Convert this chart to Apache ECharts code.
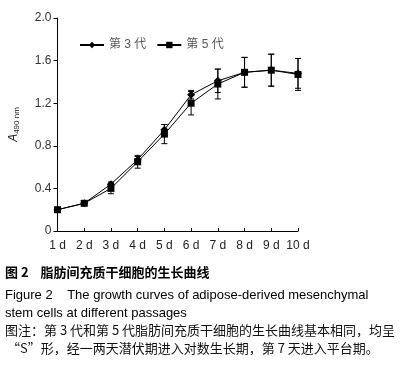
<!DOCTYPE html>
<html>
<head>
<meta charset="utf-8">
<script src="https://cdn.jsdelivr.net/npm/echarts@6/dist/echarts.min.js"></script>
<style>
  html, body { margin: 0; padding: 0; background: #fff; }
  #main { width: 405px; height: 366px; }
</style>
</head>
<body>
<div id="main"></div>
<script>
// days on the x axis
var days = ['1 d', '2 d', '3 d', '4 d', '5 d', '6 d', '7 d', '8 d', '9 d', '10 d'];
// A490 means and SD, passage 3 / passage 5
var p3 = [0.20, 0.26, 0.44, 0.67, 0.95, 1.28, 1.41, 1.49, 1.51, 1.48];
var p3err = [0.01, 0.01, 0.02, 0.03, 0.05, 0.04, 0.11, 0.14, 0.15, 0.14];
var p5 = [0.20, 0.26, 0.40, 0.65, 0.91, 1.20, 1.38, 1.49, 1.51, 1.47];
var p5err = [0.01, 0.02, 0.05, 0.06, 0.09, 0.11, 0.14, 0.14, 0.15, 0.15];
var yTicks = [0, 0.4, 0.8, 1.2, 1.6, 2.0];

var FONT = 'Liberation Sans, Arial, Noto Sans CJK SC, sans-serif';
var CJK = 'Noto Sans CJK SC, Liberation Sans, sans-serif';

function errData(vals, errs) {
  return vals.map(function (v, i) { return [i, v, errs[i]]; });
}

function renderErr(params, api) {
  var x = api.value(0), v = api.value(1), e = api.value(2);
  var hi = api.coord([x, v + e]);
  var lo = api.coord([x, v - e]);
  var w = 3;
  var st = { stroke: '#000', lineWidth: 1 };
  return {
    type: 'group',
    children: [
      { type: 'line', shape: { x1: hi[0], y1: hi[1], x2: lo[0], y2: lo[1] }, style: st },
      { type: 'line', shape: { x1: hi[0] - w, y1: hi[1], x2: hi[0] + w, y2: hi[1] }, style: st },
      { type: 'line', shape: { x1: lo[0] - w, y1: lo[1], x2: lo[0] + w, y2: lo[1] }, style: st }
    ]
  };
}

var chart = echarts.init(document.getElementById('main'));

var option = {
  animation: false,
  textStyle: { fontFamily: FONT },
  grid: { left: 54, right: 107, top: 18, bottom: 135, containLabel: false },
  legend: {
    left: 74, top: 34,
    itemWidth: 24, itemHeight: 8, itemGap: 10,
    textStyle: { fontSize: 12, color: '#555', fontFamily: FONT },
    data: ['第 3 代', '第 5 代']
  },
  xAxis: {
    type: 'category',
    data: days,
    boundaryGap: false,
    axisLine: { lineStyle: { color: '#000', width: 1 } },
    axisTick: { inside: true, length: 3, interval: 0, lineStyle: { color: '#000' } },
    axisLabel: { color: '#222', fontSize: 12, margin: 9, interval: 0 },
    splitLine: { show: false }
  },
  yAxis: {
    type: 'value',
    min: 0, max: 2.0, interval: 0.4,
    name: '{a|A}{s|490 nm}',
    nameLocation: 'middle',
    nameGap: 37,
    nameRotate: 90,
    nameTextStyle: {
      rich: {
        a: { fontSize: 12, fontStyle: 'italic', color: '#222', fontFamily: FONT },
        s: { fontSize: 8, color: '#222', fontFamily: FONT, verticalAlign: 'bottom', padding: [5, 0, 0, 0] }
      }
    },
    axisLine: { show: true, lineStyle: { color: '#000', width: 1 } },
    axisTick: { show: true, length: 4, lineStyle: { color: '#000' } },
    axisLabel: {
      color: '#333', fontSize: 12, margin: 6,
      formatter: function (v) { return yTicks.indexOf(v) === 0 ? '0' : v.toFixed(1); }
    },
    splitLine: { show: false }
  },
  series: [
    {
      name: '第 3 代', type: 'line', data: p3,
      symbol: 'diamond', symbolSize: 8,
      itemStyle: { color: '#000' }, lineStyle: { color: '#000', width: 1 }, z: 3
    },
    {
      name: '第 5 代', type: 'line', data: p5,
      symbol: 'rect', symbolSize: 7,
      itemStyle: { color: '#000' }, lineStyle: { color: '#000', width: 1 }, z: 3
    },
    { type: 'custom', renderItem: renderErr, data: errData(p3, p3err), encode: { x: 0, y: [1] }, z: 2, silent: true },
    { type: 'custom', renderItem: renderErr, data: errData(p5, p5err), encode: { x: 0, y: [1] }, z: 2, silent: true }
  ],
  graphic: [
    { type: 'text', left: 5, top: 266, style: { text: '图 2    脂肪间充质干细胞的生长曲线', font: 'bold 13px ' + CJK, fill: '#000' } },
    { type: 'text', left: 5, top: 289, style: { text: 'Figure 2    The growth curves of adipose-derived mesenchymal', font: '13px ' + FONT, fill: '#000' } },
    { type: 'text', left: 5, top: 307, style: { text: 'stem cells at different passages', font: '13px ' + FONT, fill: '#000' } },
    { type: 'text', left: 5, top: 324, style: { text: '图注：第 3 代和第 5 代脂肪间充质干细胞的生长曲线基本相同，均呈', font: '13px ' + CJK, fill: '#111' } },
    { type: 'text', left: 7, top: 342, style: { text: '“S”形，经一两天潜伏期进入对数生长期，第 7 天进入平台期。', font: '13px ' + CJK, fill: '#111' } }
  ]
};

chart.setOption(option);
</script>
</body>
</html>
